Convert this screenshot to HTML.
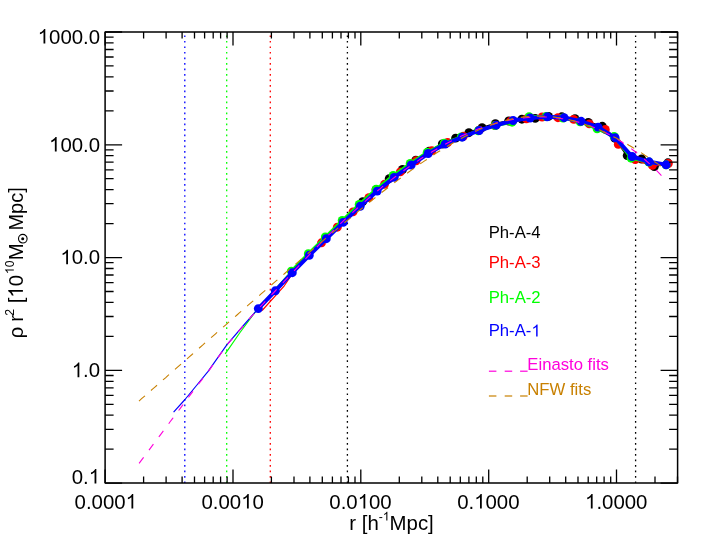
<!DOCTYPE html>
<html><head><meta charset="utf-8"><title>plot</title>
<style>html,body{margin:0;padding:0;background:#fff;overflow:hidden}svg{display:block;will-change:transform}text{font-family:"Liberation Sans",sans-serif}</style></head>
<body>
<svg width="709" height="550" viewBox="0 0 709 550">
<rect width="709" height="550" fill="#fff"/>
<line x1="184.8" y1="32.0" x2="184.8" y2="483.1" stroke="#0000ff" stroke-width="1.3" stroke-dasharray="1.7 3.808" stroke-dashoffset="-3.4"/>
<line x1="226.7" y1="32.0" x2="226.7" y2="483.1" stroke="#00ff00" stroke-width="1.3" stroke-dasharray="1.7 3.808" stroke-dashoffset="-3.4"/>
<line x1="270.3" y1="32.0" x2="270.3" y2="483.1" stroke="#ff0000" stroke-width="1.3" stroke-dasharray="1.7 3.808" stroke-dashoffset="-3.4"/>
<line x1="347.4" y1="32.0" x2="347.4" y2="483.1" stroke="#000" stroke-width="1.3" stroke-dasharray="1.7 3.808" stroke-dashoffset="-3.4"/>
<line x1="635.6" y1="32.0" x2="635.6" y2="483.1" stroke="#000" stroke-width="1.3" stroke-dasharray="1.7 3.808" stroke-dashoffset="-3.4"/>
<polyline points="362.7,201.6 376.0,189.7 389.2,178.7 402.5,169.5 415.8,160.2 429.0,151.3 442.3,144.0 455.6,138.1 468.9,132.7 482.1,127.7 495.4,123.7 508.7,121.0 521.9,119.2 535.2,118.4 548.5,116.4 561.8,116.8 575.0,118.7 588.3,122.5 602.3,126.3 614.8,138.2 627.2,155.6 641.6,159.0 654.3,166.6 667.9,162.8" fill="none" stroke="#000" stroke-width="2.0" stroke-linejoin="round" stroke-linecap="round"/>
<circle cx="362.7" cy="201.6" r="4.45" fill="#000"/>
<circle cx="376.0" cy="189.7" r="4.45" fill="#000"/>
<circle cx="389.2" cy="178.7" r="4.45" fill="#000"/>
<circle cx="402.5" cy="169.5" r="4.45" fill="#000"/>
<circle cx="415.8" cy="160.2" r="4.45" fill="#000"/>
<circle cx="429.0" cy="151.3" r="4.45" fill="#000"/>
<circle cx="442.3" cy="144.0" r="4.45" fill="#000"/>
<circle cx="455.6" cy="138.1" r="4.45" fill="#000"/>
<circle cx="468.9" cy="132.7" r="4.45" fill="#000"/>
<circle cx="482.1" cy="127.7" r="4.45" fill="#000"/>
<circle cx="495.4" cy="123.7" r="4.45" fill="#000"/>
<circle cx="508.7" cy="121.0" r="4.45" fill="#000"/>
<circle cx="521.9" cy="119.2" r="4.45" fill="#000"/>
<circle cx="535.2" cy="118.4" r="4.45" fill="#000"/>
<circle cx="548.5" cy="116.4" r="4.45" fill="#000"/>
<circle cx="561.8" cy="116.8" r="4.45" fill="#000"/>
<circle cx="575.0" cy="118.7" r="4.45" fill="#000"/>
<circle cx="588.3" cy="122.5" r="4.45" fill="#000"/>
<circle cx="602.3" cy="126.3" r="4.45" fill="#000"/>
<circle cx="614.8" cy="138.2" r="4.45" fill="#000"/>
<circle cx="627.2" cy="155.6" r="4.45" fill="#000"/>
<circle cx="641.6" cy="159.0" r="4.45" fill="#000"/>
<circle cx="654.3" cy="166.6" r="4.45" fill="#000"/>
<circle cx="667.9" cy="162.8" r="4.45" fill="#000"/>
<polyline points="262.1,310.5 284.3,285.8 292.4,273.6 309.0,255.8 321.5,243.0" fill="none" stroke="#ff0000" stroke-width="1.15" stroke-linejoin="round"/>
<polyline points="321.5,242.8 337.3,227.2 353.0,211.9 368.8,197.6 384.5,184.3 400.3,171.9 416.1,160.8 431.8,150.7 447.6,142.5 463.3,136.3 479.1,130.2 494.9,125.5 510.6,121.2 526.4,118.9 542.1,117.0 557.9,117.7 573.7,119.4 589.4,123.9 605.3,129.4 618.3,144.4 635.2,159.6 652.4,165.4 668.3,163.5" fill="none" stroke="#ff0000" stroke-width="2.5" stroke-linejoin="round" stroke-linecap="round"/>
<circle cx="321.5" cy="242.8" r="4.45" fill="#ff0000"/>
<circle cx="337.3" cy="227.2" r="4.45" fill="#ff0000"/>
<circle cx="353.0" cy="211.9" r="4.45" fill="#ff0000"/>
<circle cx="368.8" cy="197.6" r="4.45" fill="#ff0000"/>
<circle cx="384.5" cy="184.3" r="4.45" fill="#ff0000"/>
<circle cx="400.3" cy="171.9" r="4.45" fill="#ff0000"/>
<circle cx="416.1" cy="160.8" r="4.45" fill="#ff0000"/>
<circle cx="431.8" cy="150.7" r="4.45" fill="#ff0000"/>
<circle cx="447.6" cy="142.5" r="4.45" fill="#ff0000"/>
<circle cx="463.3" cy="136.3" r="4.45" fill="#ff0000"/>
<circle cx="479.1" cy="130.2" r="4.45" fill="#ff0000"/>
<circle cx="494.9" cy="125.5" r="4.45" fill="#ff0000"/>
<circle cx="510.6" cy="121.2" r="4.45" fill="#ff0000"/>
<circle cx="526.4" cy="118.9" r="4.45" fill="#ff0000"/>
<circle cx="542.1" cy="117.0" r="4.45" fill="#ff0000"/>
<circle cx="557.9" cy="117.7" r="4.45" fill="#ff0000"/>
<circle cx="573.7" cy="119.4" r="4.45" fill="#ff0000"/>
<circle cx="589.4" cy="123.9" r="4.45" fill="#ff0000"/>
<circle cx="605.3" cy="129.4" r="4.45" fill="#ff0000"/>
<circle cx="618.3" cy="144.4" r="4.45" fill="#ff0000"/>
<circle cx="635.2" cy="159.6" r="4.45" fill="#ff0000"/>
<circle cx="652.4" cy="165.4" r="4.45" fill="#ff0000"/>
<circle cx="668.3" cy="163.5" r="4.45" fill="#ff0000"/>
<polyline points="225.2,353.8 240.0,332.5 254.0,313.6 257.3,309.6 274.4,290.0 291.3,271.1" fill="none" stroke="#00ff00" stroke-width="1.15" stroke-linejoin="round"/>
<polyline points="291.3,271.1 308.3,253.7 325.3,237.0 342.2,220.5 359.2,204.4 376.2,189.1 393.2,175.4 410.2,163.4 427.2,152.3 444.2,143.2 461.2,136.9 478.2,130.8 495.2,125.5 512.1,122.2 529.1,116.6 546.1,116.5 563.1,118.0 580.1,121.8 597.1,128.8 614.1,136.4 631.1,158.2 648.8,162.0 666.1,164.8" fill="none" stroke="#00ff00" stroke-width="3.0" stroke-linejoin="round" stroke-linecap="round"/>
<circle cx="291.3" cy="271.1" r="4.45" fill="#00ff00"/>
<circle cx="308.3" cy="253.7" r="4.45" fill="#00ff00"/>
<circle cx="325.3" cy="237.0" r="4.45" fill="#00ff00"/>
<circle cx="342.2" cy="220.5" r="4.45" fill="#00ff00"/>
<circle cx="359.2" cy="204.4" r="4.45" fill="#00ff00"/>
<circle cx="376.2" cy="189.1" r="4.45" fill="#00ff00"/>
<circle cx="393.2" cy="175.4" r="4.45" fill="#00ff00"/>
<circle cx="410.2" cy="163.4" r="4.45" fill="#00ff00"/>
<circle cx="427.2" cy="152.3" r="4.45" fill="#00ff00"/>
<circle cx="444.2" cy="143.2" r="4.45" fill="#00ff00"/>
<circle cx="461.2" cy="136.9" r="4.45" fill="#00ff00"/>
<circle cx="478.2" cy="130.8" r="4.45" fill="#00ff00"/>
<circle cx="495.2" cy="125.5" r="4.45" fill="#00ff00"/>
<circle cx="512.1" cy="122.2" r="4.45" fill="#00ff00"/>
<circle cx="529.1" cy="116.6" r="4.45" fill="#00ff00"/>
<circle cx="546.1" cy="116.5" r="4.45" fill="#00ff00"/>
<circle cx="563.1" cy="118.0" r="4.45" fill="#00ff00"/>
<circle cx="580.1" cy="121.8" r="4.45" fill="#00ff00"/>
<circle cx="597.1" cy="128.8" r="4.45" fill="#00ff00"/>
<circle cx="614.1" cy="136.4" r="4.45" fill="#00ff00"/>
<circle cx="631.1" cy="158.2" r="4.45" fill="#00ff00"/>
<circle cx="648.8" cy="162.0" r="4.45" fill="#00ff00"/>
<circle cx="666.1" cy="164.8" r="4.45" fill="#00ff00"/>
<polyline points="173.6,412.2 185.0,399.5 196.1,386.0 207.9,371.6 226.8,344.8 243.0,326.0 258.3,308.6" fill="none" stroke="#0000ff" stroke-width="1.15" stroke-linejoin="round"/>
<polyline points="258.3,308.6 275.3,290.8 292.3,272.7 309.3,255.3 326.3,238.7 343.2,222.4 360.2,206.3 377.2,191.1 394.2,177.4 411.2,165.0 428.2,153.5 445.2,144.1 462.2,137.2 479.2,130.5 496.2,125.2 513.1,120.5 530.1,118.0 547.1,116.8 564.1,117.7 581.1,121.3 598.1,127.1 615.1,137.7 632.1,156.5 649.1,161.8 666.1,164.8" fill="none" stroke="#0000ff" stroke-width="4.0" stroke-linejoin="round" stroke-linecap="round"/>
<circle cx="258.3" cy="308.6" r="4.45" fill="#0000ff"/>
<circle cx="275.3" cy="290.8" r="4.45" fill="#0000ff"/>
<circle cx="292.3" cy="272.7" r="4.45" fill="#0000ff"/>
<circle cx="309.3" cy="255.3" r="4.45" fill="#0000ff"/>
<circle cx="326.3" cy="238.7" r="4.45" fill="#0000ff"/>
<circle cx="343.2" cy="222.4" r="4.45" fill="#0000ff"/>
<circle cx="360.2" cy="206.3" r="4.45" fill="#0000ff"/>
<circle cx="377.2" cy="191.1" r="4.45" fill="#0000ff"/>
<circle cx="394.2" cy="177.4" r="4.45" fill="#0000ff"/>
<circle cx="411.2" cy="165.0" r="4.45" fill="#0000ff"/>
<circle cx="428.2" cy="153.5" r="4.45" fill="#0000ff"/>
<circle cx="445.2" cy="144.1" r="4.45" fill="#0000ff"/>
<circle cx="462.2" cy="137.2" r="4.45" fill="#0000ff"/>
<circle cx="479.2" cy="130.5" r="4.45" fill="#0000ff"/>
<circle cx="496.2" cy="125.2" r="4.45" fill="#0000ff"/>
<circle cx="513.1" cy="120.5" r="4.45" fill="#0000ff"/>
<circle cx="530.1" cy="118.0" r="4.45" fill="#0000ff"/>
<circle cx="547.1" cy="116.8" r="4.45" fill="#0000ff"/>
<circle cx="564.1" cy="117.7" r="4.45" fill="#0000ff"/>
<circle cx="581.1" cy="121.3" r="4.45" fill="#0000ff"/>
<circle cx="598.1" cy="127.1" r="4.45" fill="#0000ff"/>
<circle cx="615.1" cy="137.7" r="4.45" fill="#0000ff"/>
<circle cx="632.1" cy="156.5" r="4.45" fill="#0000ff"/>
<circle cx="649.1" cy="161.8" r="4.45" fill="#0000ff"/>
<circle cx="666.1" cy="164.8" r="4.45" fill="#0000ff"/>
<polyline points="139.1,463.4 141.5,460.2 143.9,457.0 146.3,453.8 148.7,450.6 151.0,447.4 153.4,444.2 155.8,441.0 158.2,437.8 160.6,434.6 163.0,431.4 165.4,428.2 167.8,425.0 170.1,421.8 172.5,418.6 174.9,415.4 177.3,412.3 179.7,409.1 182.1,405.9 184.5,402.7 186.9,399.5 189.2,396.3 191.6,393.2 194.0,390.0 196.4,386.8 198.8,383.6 201.2,380.6 203.6,377.6 206.0,374.6 208.3,371.5 210.7,368.1 213.1,364.6 215.5,361.2 217.9,357.8 220.3,354.4 222.7,351.0 225.1,347.6 227.4,344.3 229.8,341.6 232.2,338.8 234.6,336.0 237.0,333.2 239.4,330.4 241.8,327.6 244.2,324.9 246.5,322.2 248.9,319.5 251.3,316.7 253.7,314.0 256.1,311.3 258.5,308.6 260.9,306.1 263.3,303.6 265.6,301.1 268.0,298.6 270.4,296.0 272.8,293.5 275.2,291.0 277.6,288.5 280.0,285.9 282.4,283.4 284.7,280.8 287.1,278.3 289.5,275.8 291.9,273.2 294.3,270.7 296.7,268.2 299.1,265.7 301.5,263.2 303.8,260.6 306.2,258.1 308.6,255.6 311.0,253.0 313.4,250.6 315.8,248.1 318.2,245.6 320.6,243.1 323.0,240.7 325.3,238.3 327.7,235.9 330.1,233.6 332.5,231.3 334.9,229.0 337.3,226.7 339.7,224.4 342.1,222.1 344.4,219.9 346.8,217.7 349.2,215.5 351.6,213.3 354.0,211.1 356.4,209.0 358.8,206.8 361.2,204.7 363.5,202.6 365.9,200.6 368.3,198.5 370.7,196.5 373.1,194.5 375.5,192.5 377.9,190.5 380.3,188.6 382.6,186.6 385.0,184.7 387.4,182.8 389.8,181.0 392.2,179.1 394.6,177.3 397.0,175.5 399.4,173.7 401.7,172.0 404.1,170.3 406.5,168.6 408.9,166.9 411.3,165.2 413.7,163.6 416.1,162.0 418.5,160.4 420.8,158.8 423.2,157.3 425.6,155.7 428.0,154.2 430.4,152.8 432.8,151.3 435.2,149.9 437.6,148.5 439.9,147.2 442.3,145.8 444.7,144.5 447.1,143.2 449.5,142.0 451.9,140.8 454.3,139.6 456.7,138.4 459.0,137.2 461.4,136.1 463.8,135.0 466.2,134.0 468.6,132.9 471.0,131.9 473.4,131.0 475.8,130.0 478.1,129.1 480.5,128.2 482.9,127.4 485.3,126.6 487.7,125.8 490.1,125.0 492.5,124.3 494.9,123.6 497.3,122.9 499.6,122.3 502.0,121.7 504.4,121.1 506.8,120.6 509.2,120.1 511.6,119.7 514.0,119.2 516.4,118.9 518.7,118.5 521.1,118.2 523.5,117.9 525.9,117.7 528.3,117.4 530.7,117.3 533.1,117.1 535.5,117.0 537.8,117.0 540.2,117.0 542.6,117.0 545.0,117.0 547.4,117.1 549.8,117.3 552.2,117.4 554.6,117.7 556.9,117.9 559.3,118.2 561.7,118.6 564.1,118.9 566.5,119.4 568.9,119.8 571.3,120.3 573.7,120.9 576.0,121.5 578.4,122.1 580.8,122.8 583.2,123.6 585.6,124.3 588.0,125.2 590.4,126.0 592.8,127.0 595.1,127.9 597.5,128.9 599.9,130.0 602.3,131.1 604.7,132.3 607.1,133.5 609.5,134.7 611.9,136.1 614.2,137.4 616.6,138.8 619.0,140.3 621.4,141.8 623.8,143.4 626.2,145.0 628.6,146.7 631.0,148.4 633.3,150.2 635.7,152.0 638.1,153.9 640.5,155.9 642.9,157.9 645.3,160.0 647.7,162.1 650.1,164.3 652.4,166.5 654.8,168.8 657.2,171.2 659.6,173.6 662.0,176.1" fill="none" stroke="#ff00dc" stroke-width="1.1" stroke-dasharray="7.5 9"/>
<polyline points="139.0,401.1 141.6,398.7 144.3,396.4 146.9,394.1 149.6,391.7 152.2,389.4 154.9,387.1 157.5,384.8 160.2,382.4 162.8,380.1 165.5,377.8 168.1,375.4 170.8,373.1 173.4,370.8 176.1,368.4 178.7,366.1 181.4,363.8 184.0,361.5 186.7,359.1 189.3,356.8 192.0,354.5 194.6,352.1 197.3,349.8 199.9,347.5 202.6,345.2 205.2,342.8 207.9,340.5 210.5,338.2 213.2,335.9 215.8,333.6 218.4,331.2 221.1,328.9 223.7,326.6 226.4,324.3 229.0,321.9 231.7,319.6 234.3,317.3 237.0,315.0 239.6,312.7 242.3,310.4 244.9,308.1 247.6,305.7 250.2,303.4 252.9,301.1 255.5,298.8 258.2,296.5 260.8,294.2 263.5,291.9 266.1,289.6 268.8,287.3 271.4,285.0 274.1,282.7 276.7,280.4 279.4,278.1 282.0,275.8 284.7,273.5 287.3,271.2 289.9,269.0 292.6,266.7 295.2,264.4 297.9,262.1 300.5,259.8 303.2,257.6 305.8,255.3 308.5,253.0 311.1,250.8 313.8,248.5 316.4,246.3 319.1,244.0 321.7,241.8 324.4,239.5 327.0,237.3 329.7,235.1 332.3,232.8 335.0,230.6 337.6,228.4 340.3,226.2 342.9,224.0 345.6,221.8 348.2,219.6 350.9,217.4 353.5,215.2 356.2,213.0 358.8,210.9 361.5,208.7 364.1,206.6 366.7,204.4 369.4,202.3 372.0,200.2 374.7,198.1 377.3,196.0 380.0,193.9 382.6,191.8 385.3,189.7 387.9,187.7 390.6,185.6 393.2,183.6 395.9,181.6 398.5,179.6 401.2,177.6 403.8,175.7 406.5,173.7 409.1,171.8 411.8,169.9 414.4,168.0 417.1,166.1 419.7,164.2 422.4,162.4 425.0,160.6 427.7,158.8 430.3,157.0 433.0,155.3 435.6,153.5 438.3,151.8 440.9,150.2 443.5,148.5 446.2,146.9 448.8,145.3 451.5,143.8 454.1,142.3 456.8,140.8 459.4,139.3 462.1,137.9 464.7,136.5 467.4,135.2 470.0,133.9 472.7,132.6 475.3,131.4 478.0,130.2 480.6,129.1 483.3,127.9 485.9,126.9 488.6,125.9 491.2,124.9 493.9,124.0 496.5,123.1 499.2,122.3 501.8,121.5 504.5,120.8 507.1,120.1 509.8,119.5 512.4,118.9 515.1,118.4 517.7,117.9 520.3,117.5 523.0,117.1 525.6,116.8 528.3,116.6 530.9,116.4 533.6,116.2 536.2,116.1 538.9,116.1 541.5,116.1 544.2,116.2 546.8,116.4 549.5,116.6 552.1,116.8 554.8,117.1 557.4,117.5 560.1,117.9 562.7,118.3 565.4,118.9 568.0,119.4 570.7,120.1 573.3,120.7 576.0,121.5 578.6,122.2 581.3,123.1 583.9,123.9 586.6,124.9 589.2,125.8 591.8,126.8 594.5,127.9 597.1,129.0 599.8,130.1 602.4,131.3 605.1,132.5 607.7,133.8 610.4,135.1 613.0,136.5 615.7,137.8 618.3,139.3 621.0,140.7 623.6,142.2 626.3,143.7 628.9,145.3 631.6,146.8 634.2,148.4 636.9,150.1 639.5,151.7 642.2,153.4 644.8,155.2 647.5,156.9 650.1,158.7 652.8,160.5 655.4,162.3 658.1,164.1 660.7,166.0 663.4,167.8 666.0,169.7" fill="none" stroke="#c88000" stroke-width="1.1" stroke-dasharray="8 8"/>
<rect x="105.1" y="32.0" width="572.5" height="451.1" fill="none" stroke="#000" stroke-width="1.50" stroke-linejoin="round"/>
<path d="M105.1 483.1v-13.6M105.1 32.0v13.6M143.6 483.1v-6.6M143.6 32.0v6.6M166.1 483.1v-6.6M166.1 32.0v6.6M182.1 483.1v-6.6M182.1 32.0v6.6M194.5 483.1v-6.6M194.5 32.0v6.6M204.6 483.1v-6.6M204.6 32.0v6.6M213.2 483.1v-6.6M213.2 32.0v6.6M220.6 483.1v-6.6M220.6 32.0v6.6M227.1 483.1v-6.6M227.1 32.0v6.6M233.0 483.1v-13.6M233.0 32.0v13.6M271.4 483.1v-6.6M271.4 32.0v6.6M294.0 483.1v-6.6M294.0 32.0v6.6M309.9 483.1v-6.6M309.9 32.0v6.6M322.3 483.1v-6.6M322.3 32.0v6.6M332.4 483.1v-6.6M332.4 32.0v6.6M341.0 483.1v-6.6M341.0 32.0v6.6M348.4 483.1v-6.6M348.4 32.0v6.6M355.0 483.1v-6.6M355.0 32.0v6.6M360.8 483.1v-13.6M360.8 32.0v13.6M399.3 483.1v-6.6M399.3 32.0v6.6M421.8 483.1v-6.6M421.8 32.0v6.6M437.8 483.1v-6.6M437.8 32.0v6.6M450.2 483.1v-6.6M450.2 32.0v6.6M460.3 483.1v-6.6M460.3 32.0v6.6M468.9 483.1v-6.6M468.9 32.0v6.6M476.3 483.1v-6.6M476.3 32.0v6.6M482.8 483.1v-6.6M482.8 32.0v6.6M488.7 483.1v-13.6M488.7 32.0v13.6M527.2 483.1v-6.6M527.2 32.0v6.6M549.7 483.1v-6.6M549.7 32.0v6.6M565.7 483.1v-6.6M565.7 32.0v6.6M578.0 483.1v-6.6M578.0 32.0v6.6M588.2 483.1v-6.6M588.2 32.0v6.6M596.7 483.1v-6.6M596.7 32.0v6.6M604.1 483.1v-6.6M604.1 32.0v6.6M610.7 483.1v-6.6M610.7 32.0v6.6M616.5 483.1v-13.6M616.5 32.0v13.6M655.0 483.1v-6.6M655.0 32.0v6.6M677.5 483.1v-6.6M677.5 32.0v6.6M105.1 483.1h17.0M677.6 483.1h-17.0M105.1 449.2h8.5M677.6 449.2h-8.5M105.1 429.3h8.5M677.6 429.3h-8.5M105.1 415.2h8.5M677.6 415.2h-8.5M105.1 404.3h8.5M677.6 404.3h-8.5M105.1 395.3h8.5M677.6 395.3h-8.5M105.1 387.8h8.5M677.6 387.8h-8.5M105.1 381.3h8.5M677.6 381.3h-8.5M105.1 375.5h8.5M677.6 375.5h-8.5M105.1 370.3h17.0M677.6 370.3h-17.0M105.1 336.4h8.5M677.6 336.4h-8.5M105.1 316.5h8.5M677.6 316.5h-8.5M105.1 302.4h8.5M677.6 302.4h-8.5M105.1 291.5h8.5M677.6 291.5h-8.5M105.1 282.6h8.5M677.6 282.6h-8.5M105.1 275.0h8.5M677.6 275.0h-8.5M105.1 268.5h8.5M677.6 268.5h-8.5M105.1 262.7h8.5M677.6 262.7h-8.5M105.1 257.6h17.0M677.6 257.6h-17.0M105.1 223.6h8.5M677.6 223.6h-8.5M105.1 203.7h8.5M677.6 203.7h-8.5M105.1 189.7h8.5M677.6 189.7h-8.5M105.1 178.7h8.5M677.6 178.7h-8.5M105.1 169.8h8.5M677.6 169.8h-8.5M105.1 162.2h8.5M677.6 162.2h-8.5M105.1 155.7h8.5M677.6 155.7h-8.5M105.1 149.9h8.5M677.6 149.9h-8.5M105.1 144.8h17.0M677.6 144.8h-17.0M105.1 110.8h8.5M677.6 110.8h-8.5M105.1 91.0h8.5M677.6 91.0h-8.5M105.1 76.9h8.5M677.6 76.9h-8.5M105.1 65.9h8.5M677.6 65.9h-8.5M105.1 57.0h8.5M677.6 57.0h-8.5M105.1 49.5h8.5M677.6 49.5h-8.5M105.1 42.9h8.5M677.6 42.9h-8.5M105.1 37.2h8.5M677.6 37.2h-8.5M105.1 32.0h17.0M677.6 32.0h-17.0" stroke="#000" stroke-width="1.30" fill="none"/>
<g class="t" font-size="20.4" fill="#000">
<text x="74.60" y="508.6" font-size="20.4" fill="#000">0.000</text>
<path transform="translate(125.65,508.60) scale(0.00996,-0.00996)" d="M763 0H583V1147Q518 1085 412.5 1023Q307 961 223 930V1104Q374 1175 487 1276Q600 1377 647 1472H763Z" fill="#000"/>
<text x="201.46" y="508.6" font-size="20.4" fill="#000">0.00</text>
<path transform="translate(241.16,508.60) scale(0.00996,-0.00996)" d="M763 0H583V1147Q518 1085 412.5 1023Q307 961 223 930V1104Q374 1175 487 1276Q600 1377 647 1472H763Z" fill="#000"/>
<text x="252.51" y="508.6" font-size="20.4" fill="#000">0</text>
<text x="329.32" y="508.6" font-size="20.4" fill="#000">0.0</text>
<path transform="translate(357.68,508.60) scale(0.00996,-0.00996)" d="M763 0H583V1147Q518 1085 412.5 1023Q307 961 223 930V1104Q374 1175 487 1276Q600 1377 647 1472H763Z" fill="#000"/>
<text x="369.02" y="508.6" font-size="20.4" fill="#000">00</text>
<text x="457.17" y="508.6" font-size="20.4" fill="#000">0.</text>
<path transform="translate(474.19,508.60) scale(0.00996,-0.00996)" d="M763 0H583V1147Q518 1085 412.5 1023Q307 961 223 930V1104Q374 1175 487 1276Q600 1377 647 1472H763Z" fill="#000"/>
<text x="485.53" y="508.6" font-size="20.4" fill="#000">000</text>
<path transform="translate(585.03,508.60) scale(0.00996,-0.00996)" d="M763 0H583V1147Q518 1085 412.5 1023Q307 961 223 930V1104Q374 1175 487 1276Q600 1377 647 1472H763Z" fill="#000"/>
<text x="596.38" y="508.6" font-size="20.4" fill="#000">.0000</text>
<path transform="translate(37.70,43.60) scale(0.00996,-0.00996)" d="M763 0H583V1147Q518 1085 412.5 1023Q307 961 223 930V1104Q374 1175 487 1276Q600 1377 647 1472H763Z" fill="#000"/>
<text x="49.05" y="43.6" font-size="20.4" fill="#000">000.0</text>
<path transform="translate(49.05,151.58) scale(0.00996,-0.00996)" d="M763 0H583V1147Q518 1085 412.5 1023Q307 961 223 930V1104Q374 1175 487 1276Q600 1377 647 1472H763Z" fill="#000"/>
<text x="60.39" y="151.6" font-size="20.4" fill="#000">00.0</text>
<path transform="translate(60.39,264.35) scale(0.00996,-0.00996)" d="M763 0H583V1147Q518 1085 412.5 1023Q307 961 223 930V1104Q374 1175 487 1276Q600 1377 647 1472H763Z" fill="#000"/>
<text x="71.74" y="264.4" font-size="20.4" fill="#000">0.0</text>
<path transform="translate(71.74,377.13) scale(0.00996,-0.00996)" d="M763 0H583V1147Q518 1085 412.5 1023Q307 961 223 930V1104Q374 1175 487 1276Q600 1377 647 1472H763Z" fill="#000"/>
<text x="83.09" y="377.1" font-size="20.4" fill="#000">.0</text>
<text x="71.74" y="483.6" font-size="20.4" fill="#000">0.</text>
<path transform="translate(88.75,483.60) scale(0.00996,-0.00996)" d="M763 0H583V1147Q518 1085 412.5 1023Q307 961 223 930V1104Q374 1175 487 1276Q600 1377 647 1472H763Z" fill="#000"/>
<text x="349.3" y="529.8">r [h</text>
<text x="378.70" y="520.6" font-size="12.3" fill="#000">-</text>
<path transform="translate(382.80,520.60) scale(0.00601,-0.00601)" d="M763 0H583V1147Q518 1085 412.5 1023Q307 961 223 930V1104Q374 1175 487 1276Q600 1377 647 1472H763Z" fill="#000"/>
<text x="389.6" y="529.8">Mpc]</text>
<g transform="translate(22.9,337.6) rotate(-90)">
<text x="-0.6" y="0">ρ</text>
<text x="15.8" y="0">r</text>
<text x="21.90" y="-9.1" font-size="12.3" fill="#000">2</text>
<text x="34.30" y="0.0" font-size="20.4" fill="#000">[</text>
<path transform="translate(39.97,0.00) scale(0.00996,-0.00996)" d="M763 0H583V1147Q518 1085 412.5 1023Q307 961 223 930V1104Q374 1175 487 1276Q600 1377 647 1472H763Z" fill="#000"/>
<text x="51.31" y="0.0" font-size="20.4" fill="#000">0</text>
<path transform="translate(63.60,-9.10) scale(0.00601,-0.00601)" d="M763 0H583V1147Q518 1085 412.5 1023Q307 961 223 930V1104Q374 1175 487 1276Q600 1377 647 1472H763Z" fill="#000"/>
<text x="70.44" y="-9.1" font-size="12.3" fill="#000">0</text>
<text x="77.3" y="0">M</text>
<text x="107.0" y="0" font-size="20.0">Mpc]</text>
<circle cx="98.9" cy="-0.1" r="4.3" fill="none" stroke="#000" stroke-width="1.1"/><circle cx="98.9" cy="-0.2" r="1.5" fill="#000"/>
</g>
</g>
<g class="t" font-size="16.7">
<text x="488.7" y="238.2" fill="#000">Ph-A-4</text>
<text x="488.7" y="268.4" fill="#ff0000">Ph-A-3</text>
<text x="488.7" y="302.5" fill="#00ff00">Ph-A-2</text>
<text x="488.70" y="336.4" font-size="16.7" fill="#0000ff">Ph-A-</text>
<path transform="translate(531.39,336.40) scale(0.00815,-0.00815)" d="M763 0H583V1147Q518 1085 412.5 1023Q307 961 223 930V1104Q374 1175 487 1276Q600 1377 647 1472H763Z" fill="#0000ff"/>
<text x="527.3" y="370.4" fill="#ff00dc">Einasto fits</text>
<text x="527.3" y="394.9" fill="#c88000">NFW fits</text>
<line x1="488.9" y1="371.2" x2="496.4" y2="371.2" stroke="#ff00dc" stroke-width="1.2"/>
<line x1="504.7" y1="371.2" x2="512.2" y2="371.2" stroke="#ff00dc" stroke-width="1.2"/>
<line x1="520.1" y1="371.2" x2="527.6" y2="371.2" stroke="#ff00dc" stroke-width="1.2"/>
<line x1="488.9" y1="396.0" x2="496.4" y2="396.0" stroke="#c88000" stroke-width="1.2"/>
<line x1="504.7" y1="396.0" x2="512.2" y2="396.0" stroke="#c88000" stroke-width="1.2"/>
<line x1="520.1" y1="396.0" x2="527.6" y2="396.0" stroke="#c88000" stroke-width="1.2"/>
</g>
</svg>
</body></html>
